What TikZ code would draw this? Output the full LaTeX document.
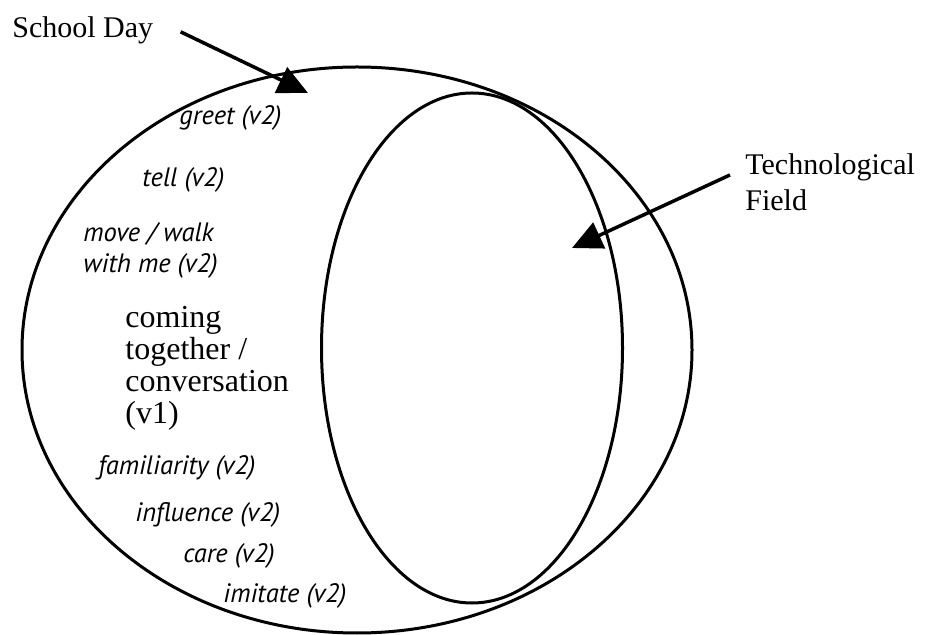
\documentclass[tikz,border=0pt]{standalone}
\usepackage{fontspec}
\setmainfont{Liberation Serif}
\newfontfamily\verbfont{PT Sans}
\usetikzlibrary{shapes.geometric, arrows.meta, calc}
\tikzset{
  field/.style={ellipse, draw, line width=1.5pt, inner sep=0pt},
  heading/.style={font=\fontsize{15}{18}\selectfont, inner sep=0pt},
  verb/.style={font=\verbfont\itshape\fontsize{13.3}{15}\selectfont, inner sep=0pt, anchor=base west},
  pointer/.style={-{Triangle[length=15pt, width=14pt]}, line width=1.75pt},
}
\begin{document}
\begin{tikzpicture}[x=0.5pt, y=-0.5pt]
  \useasboundingbox (0,0) rectangle (926,635);
  % the two fields
  \node[field, minimum width=335pt, minimum height=283pt] (school) at (357,350) {};
  \node[field, minimum width=150.5pt, minimum height=255pt] (techfield) at (472,348) {};
  % names of the fields
  \node[heading, anchor=base west] (day) at (12,38) {School Day};
  \node[heading, anchor=north west, align=left] (tech) at (745,153) {Technological\\Field};
  \coordinate (daytip) at (308,93);
  \coordinate (techtip) at (572,248);
  \draw[pointer] ($(day.east)+(27,1)$) -- (daytip);
  \draw[pointer] ($(tech.west)+(-15,-7)$) -- (techtip);
  % verbs
  \node[verb] (greet) at (179,125) {greet (v2)};
  \node[verb] (tell) at (142,187) {tell (v2)};
  \node[verb] (move) at (83,242) {move / walk};
  \node[verb] (with) at (83,273) {with me (v2)};
  \node[heading, anchor=north west, align=left, font=\fontsize{16}{16}\selectfont] (together) at (125,306) {coming\\together /\\conversation\\(v1)};
  \node[verb] (familiar) at (98,475) {familiarity (v2)};
  \node[verb] (influence) at (135,522) {influence (v2)};
  \node[verb] (care) at (183,563) {care (v2)};
  \node[verb] (imitate) at (223,603) {imitate (v2)};
\end{tikzpicture}
\end{document}
